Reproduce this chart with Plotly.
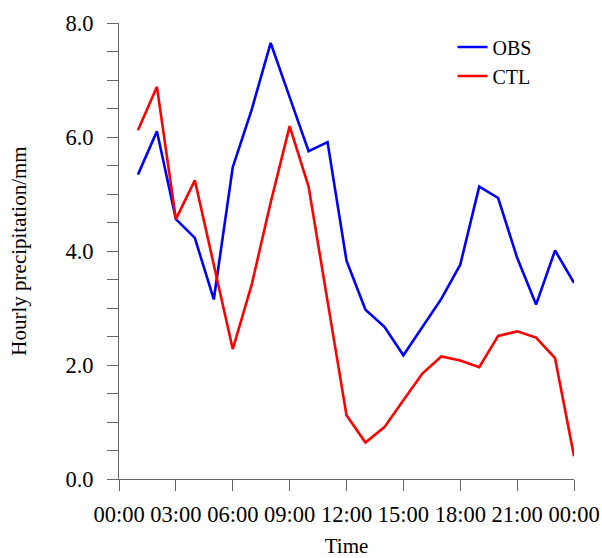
import plotly.graph_objects as go

hours = list(range(1, 25))
obs = [5.34, 6.10, 4.56, 4.23, 3.15, 5.47, 6.48, 7.65, 6.70, 5.75, 5.91, 3.83,
       2.97, 2.67, 2.17, 2.67, 3.16, 3.76, 5.13, 4.93, 3.88, 3.06, 4.01, 3.44]
ctl = [6.12, 6.88, 4.56, 5.24, 3.76, 2.28, 3.41, 4.85, 6.19, 5.13, 3.12, 1.12,
       0.64, 0.91, 1.38, 1.85, 2.15, 2.08, 1.96, 2.51, 2.59, 2.48, 2.12, 0.40]
tick_vals = [0, 3, 6, 9, 12, 15, 18, 21, 24]
tick_text = ["00:00", "03:00", "06:00", "09:00", "12:00", "15:00", "18:00", "21:00", "00:00"]

FONT = "Liberation Serif"
AXC = "#666666"

fig = go.Figure()
fig.add_trace(go.Scatter(x=hours, y=obs, mode="lines", name="OBS",
                         line=dict(color="#0000FF", width=2.6)))
fig.add_trace(go.Scatter(x=hours, y=ctl, mode="lines", name="CTL",
                         line=dict(color="#FF0000", width=2.6)))

fig.update_layout(
    width=602, height=558,
    margin=dict(l=119, r=28, t=23, b=79),
    paper_bgcolor="white", plot_bgcolor="white",
    font=dict(family=FONT, color="black", size=22),
    showlegend=True,
    legend=dict(x=0.733, y=0.99, xanchor="left", yanchor="top",
                font=dict(family=FONT, size=20, color="black"),
                bgcolor="rgba(0,0,0,0)", tracegroupgap=0),
)
fig.update_xaxes(range=[0, 24], tickvals=tick_vals, ticktext=tick_text,
                 automargin=False,
                 showgrid=False, zeroline=False, showline=True, linecolor=AXC,
                 linewidth=1, ticks="outside", ticklen=11, tickcolor=AXC,
                 ticklabelstandoff=4,
                 tickfont=dict(family=FONT, size=22.5, color="black"),
                 title=dict(text="Time", font=dict(family=FONT, size=21), standoff=16))
fig.update_yaxes(range=[0, 8], dtick=2, tickformat=".1f",
                 automargin=False,
                 showgrid=False, zeroline=False, showline=True, linecolor=AXC,
                 linewidth=1, ticks="outside", ticklen=11, tickcolor=AXC,
                 ticklabelstandoff=9,
                 minor=dict(dtick=0.5, ticks="outside", ticklen=11, tickcolor=AXC),
                 tickfont=dict(family=FONT, size=22.5, color="black"),
                 title=dict(text="Hourly precipitation/mm", font=dict(family=FONT, size=21), standoff=33))

fig.write_html("out.html", config={"displayModeBar": False},
               post_script="document.body.style.margin='0';document.body.style.padding='0';document.body.style.overflow='hidden';")
